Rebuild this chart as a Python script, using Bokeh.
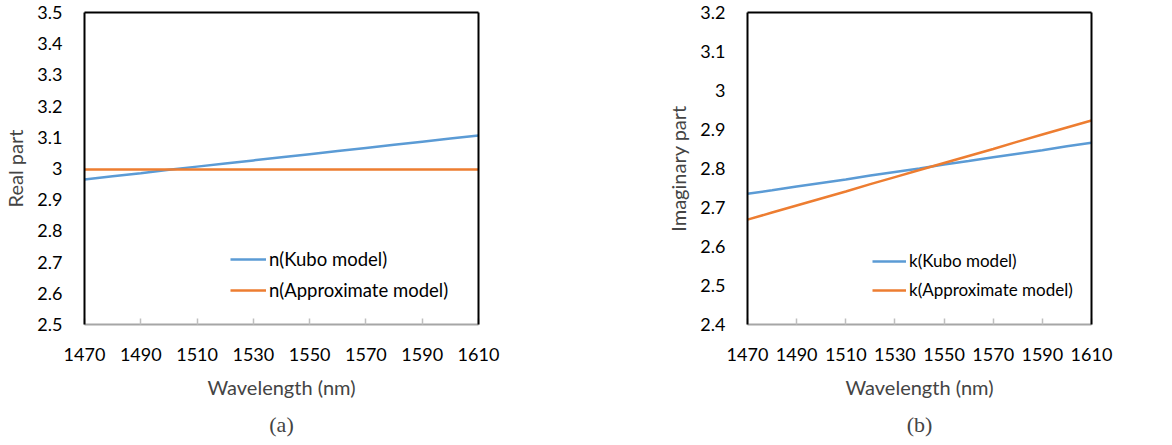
from bokeh.plotting import figure
from bokeh.layouts import row
from bokeh.models import (Range1d, FixedTicker, LinearAxis, Legend, LegendItem,
                          CustomJSTickFormatter, Title)
from bokeh.embed import file_html
from bokeh.resources import INLINE

wavelength = [1470, 1480, 1490, 1500, 1510, 1520, 1530, 1540, 1550, 1560, 1570, 1580, 1590, 1600, 1610]
n_kubo = [2.965, 2.975, 2.985, 2.996, 3.006, 3.016, 3.026, 3.036, 3.046, 3.056, 3.066, 3.076, 3.086, 3.096, 3.106]
n_approx = [2.997] * 15
k_kubo = [2.735, 2.744, 2.754, 2.763, 2.772, 2.782, 2.791, 2.800, 2.810, 2.819, 2.829, 2.838, 2.847, 2.857, 2.866]
k_approx = [2.669, 2.687, 2.705, 2.723, 2.741, 2.760, 2.778, 2.796, 2.814, 2.832, 2.850, 2.869, 2.887, 2.905, 2.923]

x_ticks = [1470, 1490, 1510, 1530, 1550, 1570, 1590, 1610]
ya_ticks = [2.5, 2.6, 2.7, 2.8, 2.9, 3.0, 3.1, 3.2, 3.3, 3.4, 3.5]
yb_ticks = [2.4, 2.5, 2.6, 2.7, 2.8, 2.9, 3.0, 3.1, 3.2]

BLUE = "#5B9BD5"
ORANGE = "#ED7D31"
FONT = "Lato"
FS = "18px"
FS_TITLE = "20px"


def make_panel(width, borders, yr, yticks, ylabel, s1, s2, names, caption,
               legend_xy, spacing, leg_fs, glyph_w):
    left, right, top, bottom = borders
    p = figure(width=width, height=445, output_backend="svg", toolbar_location=None,
               x_range=Range1d(1470, 1610), y_range=Range1d(*yr),
               min_border_left=left, min_border_right=right,
               min_border_top=top, min_border_bottom=bottom)
    p.outline_line_color = None
    p.grid.visible = False
    p.background_fill_color = "white"
    p.border_fill_color = "white"

    xa = p.xaxis[0]
    xa.ticker = FixedTicker(ticks=x_ticks)
    xa.axis_line_color = "#A6A6A6"
    xa.axis_line_width = 2
    xa.major_tick_line_color = "#BFBFBF"
    xa.major_tick_line_width = 1.5
    xa.major_tick_in = 6
    xa.major_tick_out = 0
    xa.minor_tick_line_color = None
    xa.major_label_standoff = 23
    xa.major_label_text_font = FONT
    xa.major_label_text_font_size = FS
    xa.major_label_text_color = "black"
    xa.axis_label = "Wavelength (nm)"
    xa.axis_label_text_font = FONT
    xa.axis_label_text_font_size = FS_TITLE
    xa.axis_label_text_font_style = "normal"
    xa.axis_label_standoff = 11

    ya = p.yaxis[0]
    ya.ticker = FixedTicker(ticks=yticks)
    ya.formatter = CustomJSTickFormatter(code="return Number(tick.toFixed(1)).toString();")
    ya.axis_line_color = "black"
    ya.axis_line_width = 2
    ya.major_tick_line_color = None
    ya.minor_tick_line_color = None
    ya.major_tick_in = 0
    ya.major_tick_out = 0
    ya.major_label_standoff = 22
    ya.major_label_text_font = FONT
    ya.major_label_text_font_size = FS
    ya.major_label_text_color = "black"
    ya.axis_label = ylabel
    ya.axis_label_text_font = FONT
    ya.axis_label_text_font_size = FS_TITLE
    ya.axis_label_text_font_style = "normal"
    ya.axis_label_standoff = 7

    for loc in ("right", "above"):
        ax = LinearAxis(ticker=FixedTicker(ticks=[]),
                        axis_line_color="black", axis_line_width=2,
                        major_tick_line_color=None, minor_tick_line_color=None,
                        major_tick_in=0, major_tick_out=0, major_label_standoff=0)
        p.add_layout(ax, loc)

    r1 = p.line(wavelength, s1, line_color=BLUE, line_width=2.5)
    r2 = p.line(wavelength, s2, line_color=ORANGE, line_width=2.5)

    leg = Legend(items=[LegendItem(label=names[0], renderers=[r1]),
                        LegendItem(label=names[1], renderers=[r2])],
                 location=legend_xy, orientation="vertical",
                 background_fill_alpha=0, border_line_color=None,
                 padding=0, margin=0, spacing=spacing,
                 glyph_width=glyph_w, glyph_height=20, label_height=20,
                 label_standoff=3,
                 label_text_font=FONT, label_text_font_size=leg_fs,
                 label_text_color="black")
    p.add_layout(leg, "center")

    cap = Title(text=caption, align="center", text_font="Liberation Serif",
                text_font_size="22px", text_font_style="normal", standoff=17)
    p.add_layout(cap, "below")
    return p


pa = make_panel(600, (84, 122, 12, 119), (2.5, 3.5), ya_ticks, "Real part",
                n_kubo, n_approx, ["n(Kubo model)", "n(Approximate model)"], "(a)",
                (146, 23), 9, "18.5px", 36)
pb = make_panel(572, (147, 81, 11, 120), (2.4, 3.2), yb_ticks, "Imaginary part",
                k_kubo, k_approx, ["k(Kubo model)", "k(Approximate model)"], "(b)",
                (125, 24), 8, "17px", 34)

layout = row(pa, pb)
open("out.html", "w").write(file_html(layout, INLINE))
